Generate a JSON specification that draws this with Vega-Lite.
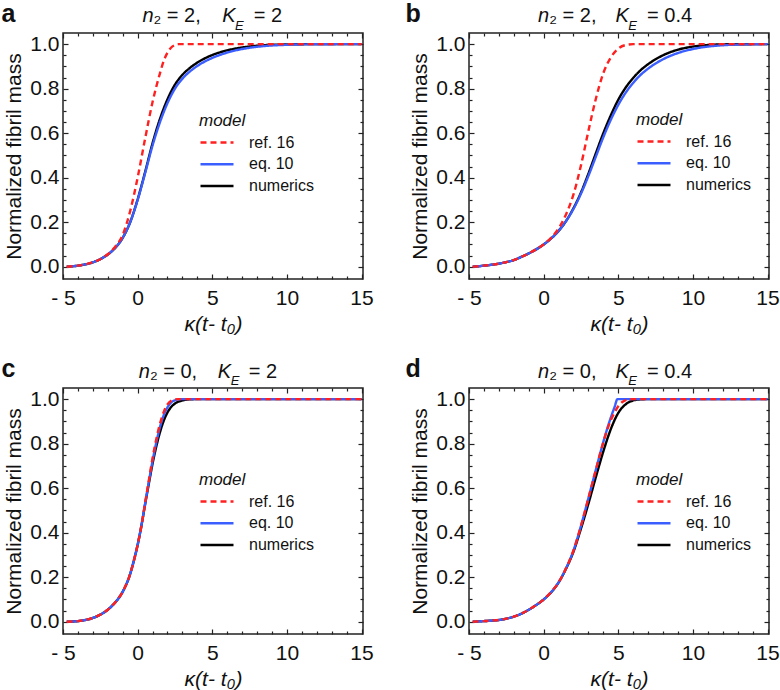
{
"$schema": "https://vega.github.io/schema/vega-lite/v6.json",
"background": "white",
"padding": {"left": 0, "top": 0, "right": 0, "bottom": 0},
"data": {"values": [
{"p":"a","m":"numerics","x":-4.75,"y":0},{"p":"a","m":"numerics","x":-4,"y":0.005},{"p":"a","m":"numerics","x":-3.5,"y":0.011},{"p":"a","m":"numerics","x":-3,"y":0.02},{"p":"a","m":"numerics","x":-2.5,"y":0.034},{"p":"a","m":"numerics","x":-2,"y":0.055},{"p":"a","m":"numerics","x":-1.5,"y":0.085},{"p":"a","m":"numerics","x":-1,"y":0.13},{"p":"a","m":"numerics","x":-0.5,"y":0.2},{"p":"a","m":"numerics","x":0,"y":0.302},{"p":"a","m":"numerics","x":0.5,"y":0.425},{"p":"a","m":"numerics","x":1,"y":0.555},{"p":"a","m":"numerics","x":1.5,"y":0.665},{"p":"a","m":"numerics","x":2,"y":0.752},{"p":"a","m":"numerics","x":2.5,"y":0.818},{"p":"a","m":"numerics","x":3,"y":0.862},{"p":"a","m":"numerics","x":3.5,"y":0.893},{"p":"a","m":"numerics","x":4,"y":0.917},{"p":"a","m":"numerics","x":4.5,"y":0.936},{"p":"a","m":"numerics","x":5,"y":0.951},{"p":"a","m":"numerics","x":6,"y":0.972},{"p":"a","m":"numerics","x":7,"y":0.985},{"p":"a","m":"numerics","x":8,"y":0.993},{"p":"a","m":"numerics","x":9,"y":0.997},{"p":"a","m":"numerics","x":10,"y":0.999},{"p":"a","m":"numerics","x":12,"y":1},{"p":"a","m":"numerics","x":15,"y":1},
{"p":"a","m":"eq. 10","x":-4.75,"y":0},{"p":"a","m":"eq. 10","x":-4,"y":0.005},{"p":"a","m":"eq. 10","x":-3.5,"y":0.011},{"p":"a","m":"eq. 10","x":-3,"y":0.02},{"p":"a","m":"eq. 10","x":-2.5,"y":0.034},{"p":"a","m":"eq. 10","x":-2,"y":0.055},{"p":"a","m":"eq. 10","x":-1.5,"y":0.085},{"p":"a","m":"eq. 10","x":-1,"y":0.13},{"p":"a","m":"eq. 10","x":-0.5,"y":0.2},{"p":"a","m":"eq. 10","x":0,"y":0.3},{"p":"a","m":"eq. 10","x":0.5,"y":0.42},{"p":"a","m":"eq. 10","x":1,"y":0.545},{"p":"a","m":"eq. 10","x":1.5,"y":0.65},{"p":"a","m":"eq. 10","x":2,"y":0.735},{"p":"a","m":"eq. 10","x":2.5,"y":0.8},{"p":"a","m":"eq. 10","x":3,"y":0.845},{"p":"a","m":"eq. 10","x":3.5,"y":0.877},{"p":"a","m":"eq. 10","x":4,"y":0.902},{"p":"a","m":"eq. 10","x":4.5,"y":0.922},{"p":"a","m":"eq. 10","x":5,"y":0.938},{"p":"a","m":"eq. 10","x":6,"y":0.962},{"p":"a","m":"eq. 10","x":7,"y":0.978},{"p":"a","m":"eq. 10","x":8,"y":0.988},{"p":"a","m":"eq. 10","x":9,"y":0.994},{"p":"a","m":"eq. 10","x":10,"y":0.997},{"p":"a","m":"eq. 10","x":12,"y":0.9995},{"p":"a","m":"eq. 10","x":15,"y":1},
{"p":"a","m":"ref. 16","x":-4.75,"y":0},{"p":"a","m":"ref. 16","x":-4,"y":0.005},{"p":"a","m":"ref. 16","x":-3.5,"y":0.011},{"p":"a","m":"ref. 16","x":-3,"y":0.02},{"p":"a","m":"ref. 16","x":-2.5,"y":0.034},{"p":"a","m":"ref. 16","x":-2,"y":0.056},{"p":"a","m":"ref. 16","x":-1.5,"y":0.09},{"p":"a","m":"ref. 16","x":-1,"y":0.143},{"p":"a","m":"ref. 16","x":-0.5,"y":0.25},{"p":"a","m":"ref. 16","x":0,"y":0.4},{"p":"a","m":"ref. 16","x":0.5,"y":0.575},{"p":"a","m":"ref. 16","x":1,"y":0.74},{"p":"a","m":"ref. 16","x":1.5,"y":0.87},{"p":"a","m":"ref. 16","x":1.75,"y":0.925},{"p":"a","m":"ref. 16","x":2,"y":0.962},{"p":"a","m":"ref. 16","x":2.25,"y":0.985},{"p":"a","m":"ref. 16","x":2.5,"y":0.996},{"p":"a","m":"ref. 16","x":2.75,"y":1},{"p":"a","m":"ref. 16","x":15,"y":1},
{"p":"b","m":"numerics","x":-4.75,"y":0},{"p":"b","m":"numerics","x":-4,"y":0.005},{"p":"b","m":"numerics","x":-3.5,"y":0.009},{"p":"b","m":"numerics","x":-3,"y":0.014},{"p":"b","m":"numerics","x":-2.5,"y":0.021},{"p":"b","m":"numerics","x":-2,"y":0.03},{"p":"b","m":"numerics","x":-1.5,"y":0.044},{"p":"b","m":"numerics","x":-1,"y":0.06},{"p":"b","m":"numerics","x":-0.5,"y":0.078},{"p":"b","m":"numerics","x":0,"y":0.1},{"p":"b","m":"numerics","x":0.5,"y":0.127},{"p":"b","m":"numerics","x":1,"y":0.161},{"p":"b","m":"numerics","x":1.5,"y":0.205},{"p":"b","m":"numerics","x":2,"y":0.263},{"p":"b","m":"numerics","x":2.5,"y":0.333},{"p":"b","m":"numerics","x":3,"y":0.418},{"p":"b","m":"numerics","x":3.5,"y":0.51},{"p":"b","m":"numerics","x":4,"y":0.6},{"p":"b","m":"numerics","x":4.5,"y":0.68},{"p":"b","m":"numerics","x":5,"y":0.75},{"p":"b","m":"numerics","x":5.5,"y":0.805},{"p":"b","m":"numerics","x":6,"y":0.848},{"p":"b","m":"numerics","x":6.5,"y":0.883},{"p":"b","m":"numerics","x":7,"y":0.91},{"p":"b","m":"numerics","x":7.5,"y":0.932},{"p":"b","m":"numerics","x":8,"y":0.95},{"p":"b","m":"numerics","x":9,"y":0.975},{"p":"b","m":"numerics","x":10,"y":0.989},{"p":"b","m":"numerics","x":11,"y":0.996},{"p":"b","m":"numerics","x":12,"y":0.999},{"p":"b","m":"numerics","x":15,"y":1},
{"p":"b","m":"eq. 10","x":-4.75,"y":0},{"p":"b","m":"eq. 10","x":-4,"y":0.005},{"p":"b","m":"eq. 10","x":-3.5,"y":0.009},{"p":"b","m":"eq. 10","x":-3,"y":0.014},{"p":"b","m":"eq. 10","x":-2.5,"y":0.021},{"p":"b","m":"eq. 10","x":-2,"y":0.03},{"p":"b","m":"eq. 10","x":-1.5,"y":0.044},{"p":"b","m":"eq. 10","x":-1,"y":0.06},{"p":"b","m":"eq. 10","x":-0.5,"y":0.078},{"p":"b","m":"eq. 10","x":0,"y":0.1},{"p":"b","m":"eq. 10","x":0.5,"y":0.127},{"p":"b","m":"eq. 10","x":1,"y":0.161},{"p":"b","m":"eq. 10","x":1.5,"y":0.205},{"p":"b","m":"eq. 10","x":2,"y":0.26},{"p":"b","m":"eq. 10","x":2.5,"y":0.328},{"p":"b","m":"eq. 10","x":3,"y":0.408},{"p":"b","m":"eq. 10","x":3.5,"y":0.495},{"p":"b","m":"eq. 10","x":4,"y":0.582},{"p":"b","m":"eq. 10","x":4.5,"y":0.66},{"p":"b","m":"eq. 10","x":5,"y":0.727},{"p":"b","m":"eq. 10","x":5.5,"y":0.782},{"p":"b","m":"eq. 10","x":6,"y":0.826},{"p":"b","m":"eq. 10","x":6.5,"y":0.862},{"p":"b","m":"eq. 10","x":7,"y":0.89},{"p":"b","m":"eq. 10","x":7.5,"y":0.913},{"p":"b","m":"eq. 10","x":8,"y":0.932},{"p":"b","m":"eq. 10","x":9,"y":0.96},{"p":"b","m":"eq. 10","x":10,"y":0.978},{"p":"b","m":"eq. 10","x":11,"y":0.989},{"p":"b","m":"eq. 10","x":12,"y":0.995},{"p":"b","m":"eq. 10","x":13,"y":0.998},{"p":"b","m":"eq. 10","x":15,"y":1},
{"p":"b","m":"ref. 16","x":-4.75,"y":0},{"p":"b","m":"ref. 16","x":-4,"y":0.005},{"p":"b","m":"ref. 16","x":-3.5,"y":0.009},{"p":"b","m":"ref. 16","x":-3,"y":0.014},{"p":"b","m":"ref. 16","x":-2.5,"y":0.021},{"p":"b","m":"ref. 16","x":-2,"y":0.03},{"p":"b","m":"ref. 16","x":-1.5,"y":0.044},{"p":"b","m":"ref. 16","x":-1,"y":0.06},{"p":"b","m":"ref. 16","x":-0.5,"y":0.078},{"p":"b","m":"ref. 16","x":0,"y":0.1},{"p":"b","m":"ref. 16","x":0.5,"y":0.13},{"p":"b","m":"ref. 16","x":1,"y":0.172},{"p":"b","m":"ref. 16","x":1.5,"y":0.235},{"p":"b","m":"ref. 16","x":2,"y":0.325},{"p":"b","m":"ref. 16","x":2.5,"y":0.455},{"p":"b","m":"ref. 16","x":3,"y":0.61},{"p":"b","m":"ref. 16","x":3.5,"y":0.755},{"p":"b","m":"ref. 16","x":4,"y":0.87},{"p":"b","m":"ref. 16","x":4.5,"y":0.94},{"p":"b","m":"ref. 16","x":5,"y":0.98},{"p":"b","m":"ref. 16","x":5.5,"y":0.996},{"p":"b","m":"ref. 16","x":6,"y":1},{"p":"b","m":"ref. 16","x":15,"y":1},
{"p":"c","m":"numerics","x":-4.75,"y":0},{"p":"c","m":"numerics","x":-4,"y":0.003},{"p":"c","m":"numerics","x":-3.5,"y":0.008},{"p":"c","m":"numerics","x":-3,"y":0.017},{"p":"c","m":"numerics","x":-2.5,"y":0.032},{"p":"c","m":"numerics","x":-2,"y":0.054},{"p":"c","m":"numerics","x":-1.5,"y":0.087},{"p":"c","m":"numerics","x":-1,"y":0.135},{"p":"c","m":"numerics","x":-0.5,"y":0.215},{"p":"c","m":"numerics","x":-0.25,"y":0.275},{"p":"c","m":"numerics","x":0,"y":0.345},{"p":"c","m":"numerics","x":0.25,"y":0.43},{"p":"c","m":"numerics","x":0.5,"y":0.527},{"p":"c","m":"numerics","x":0.75,"y":0.62},{"p":"c","m":"numerics","x":1,"y":0.71},{"p":"c","m":"numerics","x":1.25,"y":0.787},{"p":"c","m":"numerics","x":1.5,"y":0.852},{"p":"c","m":"numerics","x":1.75,"y":0.903},{"p":"c","m":"numerics","x":2,"y":0.94},{"p":"c","m":"numerics","x":2.25,"y":0.965},{"p":"c","m":"numerics","x":2.5,"y":0.98},{"p":"c","m":"numerics","x":3,"y":0.994},{"p":"c","m":"numerics","x":3.5,"y":0.999},{"p":"c","m":"numerics","x":4,"y":1},{"p":"c","m":"numerics","x":15,"y":1},
{"p":"c","m":"eq. 10","x":-4.75,"y":0},{"p":"c","m":"eq. 10","x":-4,"y":0.003},{"p":"c","m":"eq. 10","x":-3.5,"y":0.008},{"p":"c","m":"eq. 10","x":-3,"y":0.017},{"p":"c","m":"eq. 10","x":-2.5,"y":0.032},{"p":"c","m":"eq. 10","x":-2,"y":0.054},{"p":"c","m":"eq. 10","x":-1.5,"y":0.087},{"p":"c","m":"eq. 10","x":-1,"y":0.135},{"p":"c","m":"eq. 10","x":-0.5,"y":0.215},{"p":"c","m":"eq. 10","x":-0.25,"y":0.275},{"p":"c","m":"eq. 10","x":0,"y":0.345},{"p":"c","m":"eq. 10","x":0.25,"y":0.43},{"p":"c","m":"eq. 10","x":0.5,"y":0.53},{"p":"c","m":"eq. 10","x":0.75,"y":0.628},{"p":"c","m":"eq. 10","x":1,"y":0.722},{"p":"c","m":"eq. 10","x":1.25,"y":0.805},{"p":"c","m":"eq. 10","x":1.5,"y":0.875},{"p":"c","m":"eq. 10","x":1.75,"y":0.928},{"p":"c","m":"eq. 10","x":2,"y":0.963},{"p":"c","m":"eq. 10","x":2.25,"y":0.985},{"p":"c","m":"eq. 10","x":2.5,"y":0.995},{"p":"c","m":"eq. 10","x":2.75,"y":0.999},{"p":"c","m":"eq. 10","x":3,"y":1},{"p":"c","m":"eq. 10","x":15,"y":1},
{"p":"c","m":"ref. 16","x":-4.75,"y":0},{"p":"c","m":"ref. 16","x":-4,"y":0.003},{"p":"c","m":"ref. 16","x":-3.5,"y":0.008},{"p":"c","m":"ref. 16","x":-3,"y":0.017},{"p":"c","m":"ref. 16","x":-2.5,"y":0.032},{"p":"c","m":"ref. 16","x":-2,"y":0.054},{"p":"c","m":"ref. 16","x":-1.5,"y":0.087},{"p":"c","m":"ref. 16","x":-1,"y":0.135},{"p":"c","m":"ref. 16","x":-0.5,"y":0.215},{"p":"c","m":"ref. 16","x":-0.25,"y":0.275},{"p":"c","m":"ref. 16","x":0,"y":0.345},{"p":"c","m":"ref. 16","x":0.25,"y":0.43},{"p":"c","m":"ref. 16","x":0.5,"y":0.532},{"p":"c","m":"ref. 16","x":0.75,"y":0.635},{"p":"c","m":"ref. 16","x":1,"y":0.735},{"p":"c","m":"ref. 16","x":1.25,"y":0.82},{"p":"c","m":"ref. 16","x":1.5,"y":0.89},{"p":"c","m":"ref. 16","x":1.75,"y":0.943},{"p":"c","m":"ref. 16","x":2,"y":0.976},{"p":"c","m":"ref. 16","x":2.25,"y":0.993},{"p":"c","m":"ref. 16","x":2.5,"y":0.999},{"p":"c","m":"ref. 16","x":2.75,"y":1},{"p":"c","m":"ref. 16","x":15,"y":1},
{"p":"d","m":"numerics","x":-4.75,"y":0},{"p":"d","m":"numerics","x":-4,"y":0.003},{"p":"d","m":"numerics","x":-3.5,"y":0.005},{"p":"d","m":"numerics","x":-3,"y":0.008},{"p":"d","m":"numerics","x":-2.5,"y":0.014},{"p":"d","m":"numerics","x":-2,"y":0.023},{"p":"d","m":"numerics","x":-1.5,"y":0.036},{"p":"d","m":"numerics","x":-1,"y":0.054},{"p":"d","m":"numerics","x":-0.5,"y":0.075},{"p":"d","m":"numerics","x":0,"y":0.1},{"p":"d","m":"numerics","x":0.5,"y":0.132},{"p":"d","m":"numerics","x":1,"y":0.176},{"p":"d","m":"numerics","x":1.5,"y":0.238},{"p":"d","m":"numerics","x":2,"y":0.315},{"p":"d","m":"numerics","x":2.5,"y":0.418},{"p":"d","m":"numerics","x":3,"y":0.53},{"p":"d","m":"numerics","x":3.5,"y":0.65},{"p":"d","m":"numerics","x":4,"y":0.765},{"p":"d","m":"numerics","x":4.5,"y":0.865},{"p":"d","m":"numerics","x":5,"y":0.938},{"p":"d","m":"numerics","x":5.5,"y":0.977},{"p":"d","m":"numerics","x":6,"y":0.994},{"p":"d","m":"numerics","x":6.5,"y":0.999},{"p":"d","m":"numerics","x":7,"y":1},{"p":"d","m":"numerics","x":15,"y":1},
{"p":"d","m":"eq. 10","x":-4.75,"y":0},{"p":"d","m":"eq. 10","x":-4,"y":0.003},{"p":"d","m":"eq. 10","x":-3.5,"y":0.005},{"p":"d","m":"eq. 10","x":-3,"y":0.008},{"p":"d","m":"eq. 10","x":-2.5,"y":0.014},{"p":"d","m":"eq. 10","x":-2,"y":0.023},{"p":"d","m":"eq. 10","x":-1.5,"y":0.036},{"p":"d","m":"eq. 10","x":-1,"y":0.054},{"p":"d","m":"eq. 10","x":-0.5,"y":0.075},{"p":"d","m":"eq. 10","x":0,"y":0.1},{"p":"d","m":"eq. 10","x":0.5,"y":0.133},{"p":"d","m":"eq. 10","x":1,"y":0.177},{"p":"d","m":"eq. 10","x":1.5,"y":0.24},{"p":"d","m":"eq. 10","x":2,"y":0.32},{"p":"d","m":"eq. 10","x":2.5,"y":0.43},{"p":"d","m":"eq. 10","x":3,"y":0.555},{"p":"d","m":"eq. 10","x":3.5,"y":0.683},{"p":"d","m":"eq. 10","x":4,"y":0.808},{"p":"d","m":"eq. 10","x":4.25,"y":0.865},{"p":"d","m":"eq. 10","x":4.5,"y":0.917},{"p":"d","m":"eq. 10","x":4.75,"y":0.964},{"p":"d","m":"eq. 10","x":4.95,"y":1},{"p":"d","m":"eq. 10","x":15,"y":1},
{"p":"d","m":"ref. 16","x":-4.75,"y":0},{"p":"d","m":"ref. 16","x":-4,"y":0.003},{"p":"d","m":"ref. 16","x":-3.5,"y":0.005},{"p":"d","m":"ref. 16","x":-3,"y":0.008},{"p":"d","m":"ref. 16","x":-2.5,"y":0.014},{"p":"d","m":"ref. 16","x":-2,"y":0.023},{"p":"d","m":"ref. 16","x":-1.5,"y":0.036},{"p":"d","m":"ref. 16","x":-1,"y":0.054},{"p":"d","m":"ref. 16","x":-0.5,"y":0.075},{"p":"d","m":"ref. 16","x":0,"y":0.1},{"p":"d","m":"ref. 16","x":0.5,"y":0.133},{"p":"d","m":"ref. 16","x":1,"y":0.177},{"p":"d","m":"ref. 16","x":1.5,"y":0.24},{"p":"d","m":"ref. 16","x":2,"y":0.32},{"p":"d","m":"ref. 16","x":2.5,"y":0.43},{"p":"d","m":"ref. 16","x":3,"y":0.555},{"p":"d","m":"ref. 16","x":3.5,"y":0.682},{"p":"d","m":"ref. 16","x":4,"y":0.806},{"p":"d","m":"ref. 16","x":4.25,"y":0.86},{"p":"d","m":"ref. 16","x":4.5,"y":0.905},{"p":"d","m":"ref. 16","x":4.75,"y":0.94},{"p":"d","m":"ref. 16","x":5,"y":0.968},{"p":"d","m":"ref. 16","x":5.25,"y":0.986},{"p":"d","m":"ref. 16","x":5.5,"y":0.995},{"p":"d","m":"ref. 16","x":5.75,"y":0.999},{"p":"d","m":"ref. 16","x":6,"y":1},{"p":"d","m":"ref. 16","x":15,"y":1}
]},
"columns": 2,
"spacing": {"row": 109, "column": 106},
"bounds": "flush",
"resolve": {"scale": {"color": "independent", "strokeDash": "independent"}, "legend": {"color": "independent", "strokeDash": "independent"}},
"concat": [
{
"width": 300, "height": 246,
"transform": [{"filter": "datum.p === 'a'"}],
"layer": [
{"mark": {"type": "line", "strokeWidth": 2.4, "interpolate": "monotone"},
 "encoding": {
  "x": {"field": "x", "type": "quantitative", "scale": {"domain": [-5, 15.1], "nice": false, "zero": false},
   "axis": {"orient": "bottom", "values": [-5,-4,-3,-2,-1,0,1,2,3,4,5,6,7,8,9,10,11,12,13,14,15], "tickSize": {"condition": {"test": "abs(datum.value % 5) < 0.001", "value": -5}, "value": -3}, "labelExpr": "abs(datum.value % 5) < 0.001 ? (datum.value < 0 ? '- ' + format(-datum.value, 'd') : format(datum.value, 'd')) : ''", "labelPadding": 13, "title": "κ(t- t₀)", "titleFontStyle": "italic", "titlePadding": 3}},
  "y": {"field": "y", "type": "quantitative", "scale": {"domain": [-0.055, 1.05], "nice": false, "zero": false},
   "axis": {"orient": "left", "values": [0,0.05,0.1,0.15,0.2,0.25,0.3,0.35,0.4,0.45,0.5,0.55,0.6,0.65,0.7,0.75,0.8,0.85,0.9,0.95,1], "tickSize": {"condition": {"test": "abs(datum.value*5 - round(datum.value*5)) < 0.001", "value": -5}, "value": -3}, "labelExpr": "abs(datum.value*5 - round(datum.value*5)) < 0.001 ? format(datum.value, '.1f') : ''", "labelPadding": 9, "title": "Normalized fibril mass", "titlePadding": 5}},
  "color": {"field": "m", "type": "nominal", "scale": {"domain": ["ref. 16", "eq. 10", "numerics"], "range": ["#ff2020", "#3a5eff", "#000000"]}, "legend": {"orient": "none", "legendX": 136, "legendY": 80, "title": "model"}},
  "strokeDash": {"field": "m", "type": "nominal", "scale": {"domain": ["ref. 16", "eq. 10", "numerics"], "range": [[6, 4], [1, 0], [1, 0]]}, "legend": {"orient": "none", "legendX": 136, "legendY": 80, "title": "model"}}
 }},
{"mark": {"type": "line", "opacity": 0},
 "encoding": {
  "x": {"field": "x", "type": "quantitative", "scale": {"domain": [-5, 15.1], "nice": false, "zero": false},
   "axis": {"orient": "top", "values": [-5,-4,-3,-2,-1,0,1,2,3,4,5,6,7,8,9,10,11,12,13,14,15], "tickSize": {"condition": {"test": "abs(datum.value % 5) < 0.001", "value": -5}, "value": -3}, "labels": false, "title": null}},
  "y": {"field": "y", "type": "quantitative", "scale": {"domain": [-0.055, 1.05], "nice": false, "zero": false},
   "axis": {"orient": "right", "values": [0,0.05,0.1,0.15,0.2,0.25,0.3,0.35,0.4,0.45,0.5,0.55,0.6,0.65,0.7,0.75,0.8,0.85,0.9,0.95,1], "tickSize": {"condition": {"test": "abs(datum.value*5 - round(datum.value*5)) < 0.001", "value": -5}, "value": -3}, "labels": false, "title": null}}
 }},
{"mark": {"type": "line", "opacity": 0},
 "encoding": {
  "x": {"field": "x", "type": "quantitative", "scale": {"domain": [-5, 15.1], "nice": false, "zero": false},
   "axis": {"orient": "top", "ticks": false, "labels": false, "title": "n", "titleFontStyle": "italic", "titleFontSize": 20, "titleX": 79, "titleY": -11.3, "titleAlign": "left", "titleBaseline": "alphabetic", "titleAngle": 0}},
  "y": {"field": "y", "type": "quantitative", "scale": {"domain": [-0.055, 1.05], "nice": false, "zero": false},
   "axis": {"orient": "left", "ticks": false, "labels": false, "title": "a", "titleFontWeight": "bold", "titleFontSize": 25, "titleX": -62, "titleY": -11.3, "titleAlign": "left", "titleBaseline": "alphabetic", "titleAngle": 0}}
 }},
{"mark": {"type": "line", "opacity": 0},
 "encoding": {
  "x": {"field": "x", "type": "quantitative", "scale": {"domain": [-5, 15.1], "nice": false, "zero": false},
   "axis": {"orient": "top", "ticks": false, "labels": false, "title": "₂ = 2,", "titleFontSize": 20, "titleX": 90, "titleY": -11.3, "titleAlign": "left", "titleBaseline": "alphabetic", "titleAngle": 0}},
  "y": {"field": "y", "type": "quantitative", "scale": {"domain": [-0.055, 1.05], "nice": false, "zero": false},
   "axis": {"orient": "right", "ticks": false, "labels": false, "title": "K", "titleFontStyle": "italic", "titleFontSize": 20, "titleX": -141.3, "titleY": -11.3, "titleAlign": "left", "titleBaseline": "alphabetic", "titleAngle": 0}}
 }},
{"mark": {"type": "line", "opacity": 0},
 "encoding": {
  "x": {"field": "x", "type": "quantitative", "scale": {"domain": [-5, 15.1], "nice": false, "zero": false},
   "axis": {"orient": "top", "ticks": false, "labels": false, "title": "E", "titleFontStyle": "italic", "titleFontSize": 13, "titleX": 171.5, "titleY": -3.7, "titleAlign": "left", "titleBaseline": "alphabetic", "titleAngle": 0}},
  "y": {"field": "y", "type": "quantitative", "scale": {"domain": [-0.055, 1.05], "nice": false, "zero": false},
   "axis": {"orient": "right", "ticks": false, "labels": false, "title": "= 2", "titleFontSize": 20, "titleX": -109.7, "titleY": -11.3, "titleAlign": "left", "titleBaseline": "alphabetic", "titleAngle": 0}}
 }}
],
"resolve": {"scale": {"x": "independent", "y": "independent"}}
},
{
"width": 300, "height": 246,
"transform": [{"filter": "datum.p === 'b'"}],
"layer": [
{"mark": {"type": "line", "strokeWidth": 2.4, "interpolate": "monotone"},
 "encoding": {
  "x": {"field": "x", "type": "quantitative", "scale": {"domain": [-5, 15.1], "nice": false, "zero": false},
   "axis": {"orient": "bottom", "values": [-5,-4,-3,-2,-1,0,1,2,3,4,5,6,7,8,9,10,11,12,13,14,15], "tickSize": {"condition": {"test": "abs(datum.value % 5) < 0.001", "value": -5}, "value": -3}, "labelExpr": "abs(datum.value % 5) < 0.001 ? (datum.value < 0 ? '- ' + format(-datum.value, 'd') : format(datum.value, 'd')) : ''", "labelPadding": 13, "title": "κ(t- t₀)", "titleFontStyle": "italic", "titlePadding": 3}},
  "y": {"field": "y", "type": "quantitative", "scale": {"domain": [-0.055, 1.05], "nice": false, "zero": false},
   "axis": {"orient": "left", "values": [0,0.05,0.1,0.15,0.2,0.25,0.3,0.35,0.4,0.45,0.5,0.55,0.6,0.65,0.7,0.75,0.8,0.85,0.9,0.95,1], "tickSize": {"condition": {"test": "abs(datum.value*5 - round(datum.value*5)) < 0.001", "value": -5}, "value": -3}, "labelExpr": "abs(datum.value*5 - round(datum.value*5)) < 0.001 ? format(datum.value, '.1f') : ''", "labelPadding": 9, "title": "Normalized fibril mass", "titlePadding": 5}},
  "color": {"field": "m", "type": "nominal", "scale": {"domain": ["ref. 16", "eq. 10", "numerics"], "range": ["#ff2020", "#3a5eff", "#000000"]}, "legend": {"orient": "none", "legendX": 167, "legendY": 79, "title": "model"}},
  "strokeDash": {"field": "m", "type": "nominal", "scale": {"domain": ["ref. 16", "eq. 10", "numerics"], "range": [[6, 4], [1, 0], [1, 0]]}, "legend": {"orient": "none", "legendX": 167, "legendY": 79, "title": "model"}}
 }},
{"mark": {"type": "line", "opacity": 0},
 "encoding": {
  "x": {"field": "x", "type": "quantitative", "scale": {"domain": [-5, 15.1], "nice": false, "zero": false},
   "axis": {"orient": "top", "values": [-5,-4,-3,-2,-1,0,1,2,3,4,5,6,7,8,9,10,11,12,13,14,15], "tickSize": {"condition": {"test": "abs(datum.value % 5) < 0.001", "value": -5}, "value": -3}, "labels": false, "title": null}},
  "y": {"field": "y", "type": "quantitative", "scale": {"domain": [-0.055, 1.05], "nice": false, "zero": false},
   "axis": {"orient": "right", "values": [0,0.05,0.1,0.15,0.2,0.25,0.3,0.35,0.4,0.45,0.5,0.55,0.6,0.65,0.7,0.75,0.8,0.85,0.9,0.95,1], "tickSize": {"condition": {"test": "abs(datum.value*5 - round(datum.value*5)) < 0.001", "value": -5}, "value": -3}, "labels": false, "title": null}}
 }},
{"mark": {"type": "line", "opacity": 0},
 "encoding": {
  "x": {"field": "x", "type": "quantitative", "scale": {"domain": [-5, 15.1], "nice": false, "zero": false},
   "axis": {"orient": "top", "ticks": false, "labels": false, "title": "n", "titleFontStyle": "italic", "titleFontSize": 20, "titleX": 68.6, "titleY": -11.3, "titleAlign": "left", "titleBaseline": "alphabetic", "titleAngle": 0}},
  "y": {"field": "y", "type": "quantitative", "scale": {"domain": [-0.055, 1.05], "nice": false, "zero": false},
   "axis": {"orient": "left", "ticks": false, "labels": false, "title": "b", "titleFontWeight": "bold", "titleFontSize": 25, "titleX": -64, "titleY": -11.3, "titleAlign": "left", "titleBaseline": "alphabetic", "titleAngle": 0}}
 }},
{"mark": {"type": "line", "opacity": 0},
 "encoding": {
  "x": {"field": "x", "type": "quantitative", "scale": {"domain": [-5, 15.1], "nice": false, "zero": false},
   "axis": {"orient": "top", "ticks": false, "labels": false, "title": "₂ = 2,", "titleFontSize": 20, "titleX": 79.7, "titleY": -11.3, "titleAlign": "left", "titleBaseline": "alphabetic", "titleAngle": 0}},
  "y": {"field": "y", "type": "quantitative", "scale": {"domain": [-0.055, 1.05], "nice": false, "zero": false},
   "axis": {"orient": "right", "ticks": false, "labels": false, "title": "K", "titleFontStyle": "italic", "titleFontSize": 20, "titleX": -154, "titleY": -11.3, "titleAlign": "left", "titleBaseline": "alphabetic", "titleAngle": 0}}
 }},
{"mark": {"type": "line", "opacity": 0},
 "encoding": {
  "x": {"field": "x", "type": "quantitative", "scale": {"domain": [-5, 15.1], "nice": false, "zero": false},
   "axis": {"orient": "top", "ticks": false, "labels": false, "title": "E", "titleFontStyle": "italic", "titleFontSize": 13, "titleX": 158.8, "titleY": -3.7, "titleAlign": "left", "titleBaseline": "alphabetic", "titleAngle": 0}},
  "y": {"field": "y", "type": "quantitative", "scale": {"domain": [-0.055, 1.05], "nice": false, "zero": false},
   "axis": {"orient": "right", "ticks": false, "labels": false, "title": "= 0.4", "titleFontSize": 20, "titleX": -122.4, "titleY": -11.3, "titleAlign": "left", "titleBaseline": "alphabetic", "titleAngle": 0}}
 }}
],
"resolve": {"scale": {"x": "independent", "y": "independent"}}
},
{
"width": 300, "height": 246,
"transform": [{"filter": "datum.p === 'c'"}],
"layer": [
{"mark": {"type": "line", "strokeWidth": 2.4, "interpolate": "monotone"},
 "encoding": {
  "x": {"field": "x", "type": "quantitative", "scale": {"domain": [-5, 15.1], "nice": false, "zero": false},
   "axis": {"orient": "bottom", "values": [-5,-4,-3,-2,-1,0,1,2,3,4,5,6,7,8,9,10,11,12,13,14,15], "tickSize": {"condition": {"test": "abs(datum.value % 5) < 0.001", "value": -5}, "value": -3}, "labelExpr": "abs(datum.value % 5) < 0.001 ? (datum.value < 0 ? '- ' + format(-datum.value, 'd') : format(datum.value, 'd')) : ''", "labelPadding": 13, "title": "κ(t- t₀)", "titleFontStyle": "italic", "titlePadding": 3}},
  "y": {"field": "y", "type": "quantitative", "scale": {"domain": [-0.055, 1.05], "nice": false, "zero": false},
   "axis": {"orient": "left", "values": [0,0.05,0.1,0.15,0.2,0.25,0.3,0.35,0.4,0.45,0.5,0.55,0.6,0.65,0.7,0.75,0.8,0.85,0.9,0.95,1], "tickSize": {"condition": {"test": "abs(datum.value*5 - round(datum.value*5)) < 0.001", "value": -5}, "value": -3}, "labelExpr": "abs(datum.value*5 - round(datum.value*5)) < 0.001 ? format(datum.value, '.1f') : ''", "labelPadding": 9, "title": "Normalized fibril mass", "titlePadding": 5}},
  "color": {"field": "m", "type": "nominal", "scale": {"domain": ["ref. 16", "eq. 10", "numerics"], "range": ["#ff2020", "#3a5eff", "#000000"]}, "legend": {"orient": "none", "legendX": 136, "legendY": 84, "title": "model"}},
  "strokeDash": {"field": "m", "type": "nominal", "scale": {"domain": ["ref. 16", "eq. 10", "numerics"], "range": [[6, 4], [1, 0], [1, 0]]}, "legend": {"orient": "none", "legendX": 136, "legendY": 84, "title": "model"}}
 }},
{"mark": {"type": "line", "opacity": 0},
 "encoding": {
  "x": {"field": "x", "type": "quantitative", "scale": {"domain": [-5, 15.1], "nice": false, "zero": false},
   "axis": {"orient": "top", "values": [-5,-4,-3,-2,-1,0,1,2,3,4,5,6,7,8,9,10,11,12,13,14,15], "tickSize": {"condition": {"test": "abs(datum.value % 5) < 0.001", "value": -5}, "value": -3}, "labels": false, "title": null}},
  "y": {"field": "y", "type": "quantitative", "scale": {"domain": [-0.055, 1.05], "nice": false, "zero": false},
   "axis": {"orient": "right", "values": [0,0.05,0.1,0.15,0.2,0.25,0.3,0.35,0.4,0.45,0.5,0.55,0.6,0.65,0.7,0.75,0.8,0.85,0.9,0.95,1], "tickSize": {"condition": {"test": "abs(datum.value*5 - round(datum.value*5)) < 0.001", "value": -5}, "value": -3}, "labels": false, "title": null}}
 }},
{"mark": {"type": "line", "opacity": 0},
 "encoding": {
  "x": {"field": "x", "type": "quantitative", "scale": {"domain": [-5, 15.1], "nice": false, "zero": false},
   "axis": {"orient": "top", "ticks": false, "labels": false, "title": "n", "titleFontStyle": "italic", "titleFontSize": 20, "titleX": 75.3, "titleY": -11, "titleAlign": "left", "titleBaseline": "alphabetic", "titleAngle": 0}},
  "y": {"field": "y", "type": "quantitative", "scale": {"domain": [-0.055, 1.05], "nice": false, "zero": false},
   "axis": {"orient": "left", "ticks": false, "labels": false, "title": "c", "titleFontWeight": "bold", "titleFontSize": 25, "titleX": -62, "titleY": -11.5, "titleAlign": "left", "titleBaseline": "alphabetic", "titleAngle": 0}}
 }},
{"mark": {"type": "line", "opacity": 0},
 "encoding": {
  "x": {"field": "x", "type": "quantitative", "scale": {"domain": [-5, 15.1], "nice": false, "zero": false},
   "axis": {"orient": "top", "ticks": false, "labels": false, "title": "₂ = 0,", "titleFontSize": 20, "titleX": 86.4, "titleY": -11, "titleAlign": "left", "titleBaseline": "alphabetic", "titleAngle": 0}},
  "y": {"field": "y", "type": "quantitative", "scale": {"domain": [-0.055, 1.05], "nice": false, "zero": false},
   "axis": {"orient": "right", "ticks": false, "labels": false, "title": "K", "titleFontStyle": "italic", "titleFontSize": 20, "titleX": -145.7, "titleY": -11, "titleAlign": "left", "titleBaseline": "alphabetic", "titleAngle": 0}}
 }},
{"mark": {"type": "line", "opacity": 0},
 "encoding": {
  "x": {"field": "x", "type": "quantitative", "scale": {"domain": [-5, 15.1], "nice": false, "zero": false},
   "axis": {"orient": "top", "ticks": false, "labels": false, "title": "E", "titleFontStyle": "italic", "titleFontSize": 13, "titleX": 167.3, "titleY": -3.4, "titleAlign": "left", "titleBaseline": "alphabetic", "titleAngle": 0}},
  "y": {"field": "y", "type": "quantitative", "scale": {"domain": [-0.055, 1.05], "nice": false, "zero": false},
   "axis": {"orient": "right", "ticks": false, "labels": false, "title": "= 2", "titleFontSize": 20, "titleX": -114.7, "titleY": -11, "titleAlign": "left", "titleBaseline": "alphabetic", "titleAngle": 0}}
 }}
],
"resolve": {"scale": {"x": "independent", "y": "independent"}}
},
{
"width": 300, "height": 246,
"transform": [{"filter": "datum.p === 'd'"}],
"layer": [
{"mark": {"type": "line", "strokeWidth": 2.4, "interpolate": "monotone"},
 "encoding": {
  "x": {"field": "x", "type": "quantitative", "scale": {"domain": [-5, 15.1], "nice": false, "zero": false},
   "axis": {"orient": "bottom", "values": [-5,-4,-3,-2,-1,0,1,2,3,4,5,6,7,8,9,10,11,12,13,14,15], "tickSize": {"condition": {"test": "abs(datum.value % 5) < 0.001", "value": -5}, "value": -3}, "labelExpr": "abs(datum.value % 5) < 0.001 ? (datum.value < 0 ? '- ' + format(-datum.value, 'd') : format(datum.value, 'd')) : ''", "labelPadding": 13, "title": "κ(t- t₀)", "titleFontStyle": "italic", "titlePadding": 3}},
  "y": {"field": "y", "type": "quantitative", "scale": {"domain": [-0.055, 1.05], "nice": false, "zero": false},
   "axis": {"orient": "left", "values": [0,0.05,0.1,0.15,0.2,0.25,0.3,0.35,0.4,0.45,0.5,0.55,0.6,0.65,0.7,0.75,0.8,0.85,0.9,0.95,1], "tickSize": {"condition": {"test": "abs(datum.value*5 - round(datum.value*5)) < 0.001", "value": -5}, "value": -3}, "labelExpr": "abs(datum.value*5 - round(datum.value*5)) < 0.001 ? format(datum.value, '.1f') : ''", "labelPadding": 9, "title": "Normalized fibril mass", "titlePadding": 5}},
  "color": {"field": "m", "type": "nominal", "scale": {"domain": ["ref. 16", "eq. 10", "numerics"], "range": ["#ff2020", "#3a5eff", "#000000"]}, "legend": {"orient": "none", "legendX": 167, "legendY": 84, "title": "model"}},
  "strokeDash": {"field": "m", "type": "nominal", "scale": {"domain": ["ref. 16", "eq. 10", "numerics"], "range": [[6, 4], [1, 0], [1, 0]]}, "legend": {"orient": "none", "legendX": 167, "legendY": 84, "title": "model"}}
 }},
{"mark": {"type": "line", "opacity": 0},
 "encoding": {
  "x": {"field": "x", "type": "quantitative", "scale": {"domain": [-5, 15.1], "nice": false, "zero": false},
   "axis": {"orient": "top", "values": [-5,-4,-3,-2,-1,0,1,2,3,4,5,6,7,8,9,10,11,12,13,14,15], "tickSize": {"condition": {"test": "abs(datum.value % 5) < 0.001", "value": -5}, "value": -3}, "labels": false, "title": null}},
  "y": {"field": "y", "type": "quantitative", "scale": {"domain": [-0.055, 1.05], "nice": false, "zero": false},
   "axis": {"orient": "right", "values": [0,0.05,0.1,0.15,0.2,0.25,0.3,0.35,0.4,0.45,0.5,0.55,0.6,0.65,0.7,0.75,0.8,0.85,0.9,0.95,1], "tickSize": {"condition": {"test": "abs(datum.value*5 - round(datum.value*5)) < 0.001", "value": -5}, "value": -3}, "labels": false, "title": null}}
 }},
{"mark": {"type": "line", "opacity": 0},
 "encoding": {
  "x": {"field": "x", "type": "quantitative", "scale": {"domain": [-5, 15.1], "nice": false, "zero": false},
   "axis": {"orient": "top", "ticks": false, "labels": false, "title": "n", "titleFontStyle": "italic", "titleFontSize": 20, "titleX": 68.6, "titleY": -11, "titleAlign": "left", "titleBaseline": "alphabetic", "titleAngle": 0}},
  "y": {"field": "y", "type": "quantitative", "scale": {"domain": [-0.055, 1.05], "nice": false, "zero": false},
   "axis": {"orient": "left", "ticks": false, "labels": false, "title": "d", "titleFontWeight": "bold", "titleFontSize": 25, "titleX": -64, "titleY": -11.5, "titleAlign": "left", "titleBaseline": "alphabetic", "titleAngle": 0}}
 }},
{"mark": {"type": "line", "opacity": 0},
 "encoding": {
  "x": {"field": "x", "type": "quantitative", "scale": {"domain": [-5, 15.1], "nice": false, "zero": false},
   "axis": {"orient": "top", "ticks": false, "labels": false, "title": "₂ = 0,", "titleFontSize": 20, "titleX": 79.7, "titleY": -11, "titleAlign": "left", "titleBaseline": "alphabetic", "titleAngle": 0}},
  "y": {"field": "y", "type": "quantitative", "scale": {"domain": [-0.055, 1.05], "nice": false, "zero": false},
   "axis": {"orient": "right", "ticks": false, "labels": false, "title": "K", "titleFontStyle": "italic", "titleFontSize": 20, "titleX": -154, "titleY": -11, "titleAlign": "left", "titleBaseline": "alphabetic", "titleAngle": 0}}
 }},
{"mark": {"type": "line", "opacity": 0},
 "encoding": {
  "x": {"field": "x", "type": "quantitative", "scale": {"domain": [-5, 15.1], "nice": false, "zero": false},
   "axis": {"orient": "top", "ticks": false, "labels": false, "title": "E", "titleFontStyle": "italic", "titleFontSize": 13, "titleX": 158.8, "titleY": -3.4, "titleAlign": "left", "titleBaseline": "alphabetic", "titleAngle": 0}},
  "y": {"field": "y", "type": "quantitative", "scale": {"domain": [-0.055, 1.05], "nice": false, "zero": false},
   "axis": {"orient": "right", "ticks": false, "labels": false, "title": "= 0.4", "titleFontSize": 20, "titleX": -122.4, "titleY": -11, "titleAlign": "left", "titleBaseline": "alphabetic", "titleAngle": 0}}
 }}
],
"resolve": {"scale": {"x": "independent", "y": "independent"}}
}
],
"config": {
 "font": "Liberation Sans",
 "view": {"stroke": "#222222", "strokeWidth": 1.5},
 "axis": {"grid": false, "domain": false, "tickColor": "#222222", "tickWidth": 1.2, "labelFont": "Liberation Sans", "labelFontSize": 21, "labelColor": "#111111", "titleFont": "Liberation Sans", "titleFontSize": 21, "titleFontWeight": "normal", "titleColor": "#111111", "labelFlush": false, "labelOverlap": false, "labelBound": false},
 "legend": {"titleFont": "Liberation Sans", "titleFontStyle": "italic", "titleFontWeight": "normal", "titleFontSize": 17, "titleColor": "#111111", "titlePadding": 4, "labelFont": "Liberation Sans", "labelFontSize": 16, "labelColor": "#111111", "symbolType": "stroke", "symbolSize": 1089, "symbolStrokeWidth": 2.5, "labelOffset": 14, "rowPadding": 4.7, "clipHeight": 17, "padding": 0}
}
}
